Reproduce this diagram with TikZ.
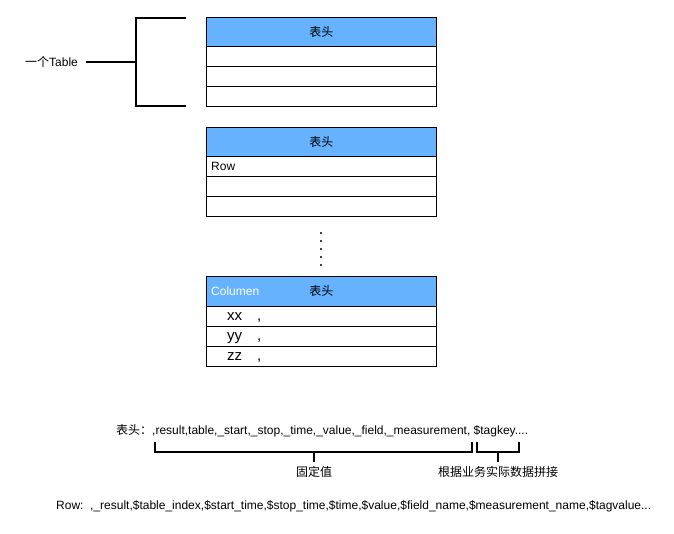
\documentclass[tikz,border=0pt]{standalone}
\usepackage{fontspec}
\setmainfont{Liberation Sans}
\newfontfamily\cjk{Noto Sans CJK SC}
\definecolor{hdr}{HTML}{66B2FF}
\begin{document}
\begin{tikzpicture}[x=1pt,y=-1pt,
  hdrbox/.style={draw, fill=hdr, minimum width=230pt, minimum height=29pt, inner sep=0pt, anchor=north west, line width=0.8pt, font=\cjk\fontsize{12}{14}\selectfont},
  rowbox/.style={draw, fill=white, minimum width=230pt, minimum height=20pt, inner sep=0pt, anchor=north west, line width=0.8pt},
  celltxt/.style={anchor=west, inner sep=0pt, font=\fontsize{12}{14}\selectfont},
  bigtxt/.style={anchor=base west, inner sep=0pt, font=\fontsize{15}{17}\selectfont},
  brk/.style={line width=1.8pt},
  sbrk/.style={line width=1.4pt},
  lbl/.style={inner sep=0pt, font=\fontsize{12}{14}\selectfont}]
\useasboundingbox (0,0) rectangle (674,533);
% table 1
\node[hdrbox] (h1) at (206,17) {表头};
\node[rowbox] (r11) at (206,46) {};
\node[rowbox] (r12) at (206,66) {};
\node[rowbox] (r13) at (206,86) {};
% table 2
\node[hdrbox] (h2) at (206,127) {表头};
\node[rowbox] (r21) at (206,156) {};
\node[rowbox] (r22) at (206,176) {};
\node[rowbox] (r23) at (206,196) {};
\node[celltxt] (rowlbl) at (211,166) {Row};
% dots
\foreach \yy in {233,241,249,257,265} \fill (321,\yy) circle (1.1pt);
% table 3
\node[hdrbox, minimum height=30pt] (h3) at (206,276) {表头};
\node[rowbox] (r31) at (206,306) {};
\node[rowbox] (r32) at (206,326) {};
\node[rowbox] (r33) at (206,346) {};
\node[celltxt, text=white] (col) at (211,291) {Columen};
\node[bigtxt] (xx) at (227,320) {xx};
\node[bigtxt] (yy) at (227,340) {yy};
\node[bigtxt] (zz) at (227,360) {zz};
\node[bigtxt] (c1) at (257,320) {,};
\node[bigtxt] (c2) at (257,340) {,};
\node[bigtxt] (c3) at (257,360) {,};
% left bracket
\node[lbl, anchor=west] (one) at (25,62) {{\cjk 一个}Table};
\coordinate (bt) at (186,18);
\coordinate (bb) at (186,106);
\coordinate (bm) at (136,62);
\draw[brk] (bt) -- (136,18) -- (136,106) -- (bb);
\draw[brk] (86,62) -- (bm);
% bottom text
\node[lbl, anchor=west] (hdrline) at (116,431) {{\cjk 表头：},result,table,\_start,\_stop,\_time,\_value,\_field,\_measurement, \$tagkey....};
\node[lbl] (fixed) at (314,472) {\cjk 固定值};
\node[lbl] (biz) at (498,472) {\cjk 根据业务实际数据拼接};
\draw[sbrk] (155,442) -- (155,452) -- (472,452) -- (472,442);
\draw[sbrk] (314,452) -- (314,462);
\draw[sbrk] (477,442) -- (477,452) -- (519,452) -- (519,442);
\draw[sbrk] (498,452) -- (498,462);
\node[lbl, anchor=west] (rowline) at (56,506) {Row:\ \ ,\_result,\$table\_index,\$start\_time,\$stop\_time,\$time,\$value,\$field\_name,\$measurement\_name,\$tagvalue...};
\end{tikzpicture}
\end{document}
